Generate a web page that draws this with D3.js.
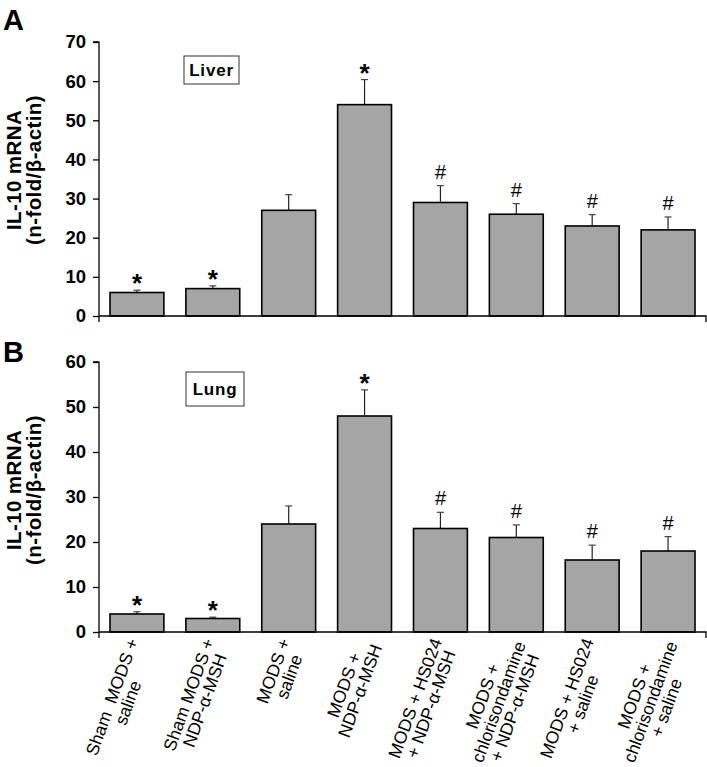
<!DOCTYPE html>
<html>
<head>
<meta charset="utf-8">
<script src="https://cdn.jsdelivr.net/npm/d3@7"></script>
<style>
  html, body { margin: 0; padding: 0; background: #fff; }
  svg { display: block; font-family: Arial, "Liberation Sans", Helvetica, sans-serif; }
</style>
</head>
<body>
<svg id="chart" width="707" height="767"></svg>
<script>
// ---------- data ----------
const categories = [
  ["Sham  MODS +", "saline"],
  ["Sham MODS +", "NDP-\u03b1-MSH"],
  ["MODS +", "saline"],
  ["MODS +", "NDP-\u03b1-MSH"],
  ["MODS + HS024", "+ NDP-\u03b1-MSH"],
  ["MODS +", "chlorisondamine", "+ NDP-\u03b1-MSH"],
  ["MODS + HS024", "+ saline"],
  ["MODS +", "chlorisondamine", "+ saline"]
];
const liverValues = [6, 7, 27, 54, 29, 26, 23, 22];
const liverErrors = [0.6, 0.7, 4.0, 6.4, 4.3, 2.7, 2.9, 3.3];
const liverMarks  = ["*", "*", "", "*", "#", "#", "#", "#"];
const liverTicks  = [0, 10, 20, 30, 40, 50, 60, 70];

const lungValues = [4, 3, 24, 48, 23, 21, 16, 18];
const lungErrors = [0.5, 0.3, 4.0, 5.8, 3.6, 2.8, 3.3, 3.2];
const lungMarks  = ["*", "*", "", "*", "#", "#", "#", "#"];
const lungTicks  = [0, 10, 20, 30, 40, 50, 60];

const yTitle = ["IL-10 mRNA", "(n-fold/\u03b2-actin)"];

// ---------- layout ----------
const svg = d3.select("#chart");
const xLeft = 99, xRight = 706;
const x = d3.scaleBand()
  .domain(d3.range(categories.length))
  .range([xLeft, xRight])
  .paddingInner(0.29)
  .paddingOuter(0.145);

function panel(opts) {
  const { top, bottom, max, ticks, values, errors, marks, letter, letterY, boxLabel, box, titleCenter } = opts;
  const y = d3.scaleLinear().domain([0, max]).range([bottom, top]);
  const g = svg.append("g");

  // y axis
  const yAxis = d3.axisLeft(y).tickValues(ticks).tickSize(6).tickPadding(7).tickFormat(d3.format("d"));
  const ya = g.append("g").attr("transform", `translate(${xLeft},0)`).call(yAxis);
  ya.select(".domain").attr("stroke", "#000").attr("stroke-width", 1.3).attr("d", `M-6,${top}H0V${bottom + 6}`);
  ya.selectAll(".tick line").attr("stroke", "#000").attr("stroke-width", 1.3);
  ya.selectAll(".tick text").attr("fill", "#000").style("font-size", "18.5px").style("font-weight", "bold")
    .style("font-family", "Arial, 'Liberation Sans', sans-serif");

  // error bars (upper only)
  const eb = g.append("g");
  values.forEach((v, i) => {
    const cx = x(i) + x.bandwidth() / 2;
    eb.append("line").attr("x1", cx).attr("x2", cx)
      .attr("y1", y(v)).attr("y2", y(v + errors[i]))
      .attr("stroke", "#222").attr("stroke-width", 1.2);
    eb.append("line").attr("x1", cx - 3.5).attr("x2", cx + 3.5)
      .attr("y1", y(v + errors[i])).attr("y2", y(v + errors[i]))
      .attr("stroke", "#444").attr("stroke-width", 1.2);
  });

  // bars
  g.append("g").selectAll("rect").data(values).join("rect")
    .attr("x", (d, i) => x(i))
    .attr("y", d => y(d))
    .attr("width", x.bandwidth())
    .attr("height", d => bottom - y(d))
    .attr("fill", "#a5a5a5")
    .attr("stroke", "#000")
    .attr("stroke-width", 1.6);

  // x axis line
  g.append("path")
    .attr("d", `M${xLeft},${bottom}H${xRight}V${bottom + 6}`)
    .attr("fill", "none").attr("stroke", "#000").attr("stroke-width", 1.3);

  // significance marks
  g.append("g").selectAll("text").data(marks).join("text")
    .attr("x", (d, i) => x(i) + x.bandwidth() / 2)
    .attr("y", (d, i) => d === "*" ? y(values[i] + errors[i]) + 2 : y(values[i] + errors[i]) - 7)
    .attr("text-anchor", "middle")
    .style("font-size", d => d === "*" ? "26px" : "20px")
    .style("font-weight", d => d === "*" ? "bold" : "normal")
    .attr("fill", "#000")
    .text(d => d);

  // panel letter
  svg.append("text").attr("x", 3).attr("y", letterY)
    .style("font-size", "29px").style("font-weight", "bold").attr("fill", "#000").text(letter);

  // organ box
  g.append("rect").attr("x", box[0]).attr("y", box[1]).attr("width", box[2]).attr("height", box[3])
    .attr("fill", "#fff").attr("stroke", "#333").attr("stroke-width", 1);
  g.append("text").attr("x", box[0] + box[2] / 2).attr("y", box[1] + box[3] / 2 + 6)
    .attr("text-anchor", "middle").style("font-size", "17px").style("font-weight", "bold")
    .style("letter-spacing", "0.8px").attr("fill", "#000").text(boxLabel);

  // y axis title
  const t = g.append("text").attr("transform", `translate(0,${titleCenter}) rotate(-90)`)
    .attr("text-anchor", "middle").style("font-size", "20.5px").style("font-weight", "bold")
    .style("letter-spacing", "0.4px").attr("fill", "#000");
  t.append("tspan").attr("x", 0).attr("y", 21).text(yTitle[0]);
  t.append("tspan").attr("x", 0).attr("y", 41).text(yTitle[1]);

  return y;
}

panel({ top: 42, bottom: 316, max: 70, ticks: liverTicks, values: liverValues, errors: liverErrors,
  marks: liverMarks, letter: "A", letterY: 30, boxLabel: "Liver", box: [184, 56, 55, 28], titleCenter: 170 });
panel({ top: 362, bottom: 632, max: 60, ticks: lungTicks, values: lungValues, errors: lungErrors,
  marks: lungMarks, letter: "B", letterY: 362, boxLabel: "Lung", box: [186, 372, 58, 34], titleCenter: 490 });

// x category labels (rotated, centered multi-line)
const lh = 17;
const lab = svg.append("g").style("font-size", "17.5px").attr("fill", "#000");
categories.forEach((lines, i) => {
  const cx = x(i) + x.bandwidth() / 2 + 4;
  const cy = 632 + 10;
  const grp = lab.append("g").attr("transform", `translate(${cx},${cy}) rotate(-70)`);
  const texts = lines.map((s, k) => grp.append("text")
    .attr("text-anchor", "middle")
    .attr("y", (k - (lines.length - 1) / 2) * lh)
    .attr("dy", "0.35em")
    .style("white-space", "pre")
    .text(s));
  const maxLen = d3.max(texts, t => t.node().getComputedTextLength());
  texts.forEach(t => t.attr("x", -maxLen / 2));
});
</script>
</body>
</html>
